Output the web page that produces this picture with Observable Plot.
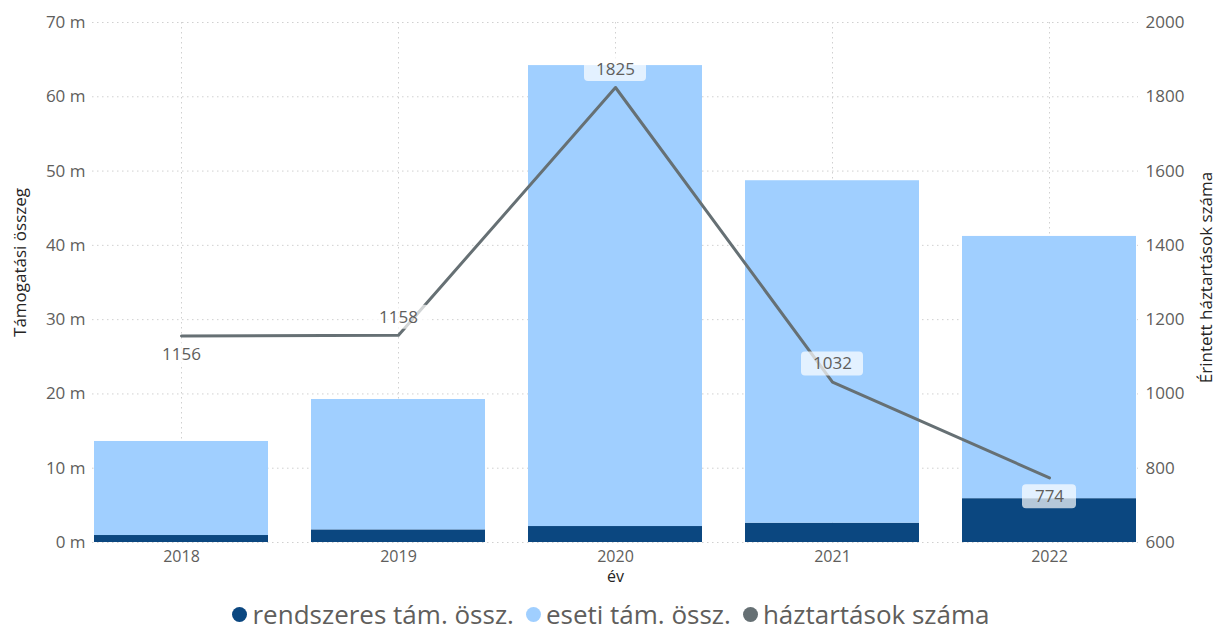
<!DOCTYPE html>
<html>
<head>
<meta charset="utf-8">
<script src="https://cdn.jsdelivr.net/npm/d3@7"></script>
<script src="https://cdn.jsdelivr.net/npm/@observablehq/plot@0.6"></script>
<style>
  html, body { margin: 0; padding: 0; background: #fff; }
  body { width: 1222px; height: 632px; overflow: hidden; font-family: "Open Sans", sans-serif; }
  #legend { display: flex; justify-content: center; align-items: center; height: 40px; margin-top: 2px; font-size: 26px; color: #605e5c; }
  .item { display: flex; align-items: center; margin: 0 6px; }
  .sw { width: 15px; height: 15px; border-radius: 50%; margin-right: 5px; }
</style>
</head>
<body>
<div id="chart"></div>
<div id="legend"></div>
<script>
const years = ["2018", "2019", "2020", "2021", "2022"];
const rendszeres = [0.94, 1.7, 2.15, 2.6, 5.9];
const eseti = [12.66, 17.55, 62.05, 46.1, 35.3];
const haztartasok = [1156, 1158, 1825, 1032, 774];
const leftTicks = [0, 10, 20, 30, 40, 50, 60, 70];
const rightTicks = [600, 800, 1000, 1200, 1400, 1600, 1800, 2000];
const labelPlacement = ["below", "above", "above", "above", "below"];
const seriesNames = ["rendszeres tám. össz.", "eseti tám. össz.", "háztartások száma"];
const seriesColors = ["#0b4780", "#a0cfff", "#667074"];

const W = 1222, H = 592;
const mTop = 22, mBottom = 50, mLeft = 92, mRight = 84;
const yMax = leftTicks[leftTicks.length - 1];
const rMin = rightTicks[0], rMax = rightTicks[rightTicks.length - 1];
const toLeft = v => (v - rMin) / (rMax - rMin) * yMax;
const pxToData = yMax / (H - mTop - mBottom);

const stacked = [];
years.forEach((y, i) => {
  stacked.push({year: y, series: seriesNames[0], value: rendszeres[i]});
  stacked.push({year: y, series: seriesNames[1], value: eseti[i]});
});
const line = years.map((y, i) => {
  const yv = toLeft(haztartasok[i]);
  const off = (labelPlacement[i] === "above" ? 18 : -19) * pxToData;
  return {year: y, value: haztartasok[i], y: yv, ly: yv + off, label: String(haztartasok[i])};
});
const boxH = 12 * pxToData;

const grid = {stroke: "#d0d0d0", strokeOpacity: 1, strokeDasharray: "1.5,3.5", strokeWidth: 1};

const chart = Plot.plot({
  width: W, height: H,
  marginTop: mTop, marginBottom: mBottom, marginLeft: mLeft, marginRight: mRight,
  style: {fontFamily: "Open Sans, sans-serif", background: "#fff", fontSize: "16px"},
  x: {domain: years, paddingInner: 0.2, paddingOuter: 0, label: null},
  y: {domain: [0, yMax], label: null},
  color: {domain: seriesNames, range: seriesColors},
  marks: [
    Plot.gridY(leftTicks, grid),
    Plot.gridX(grid),
    Plot.barY(stacked, {x: "year", y: "value", fill: "series", order: seriesNames}),
    Plot.line(line, {x: "year", y: "y", stroke: seriesColors[2], strokeWidth: 3}),
    Plot.barY(line.filter(d => d.label.length > 3), {x: "year", y1: d => d.ly - boxH, y2: d => d.ly + boxH, fill: "#fff", fillOpacity: 0.7, insetLeft: 56, insetRight: 56, rx: 4}),
    Plot.barY(line.filter(d => d.label.length <= 3), {x: "year", y1: d => d.ly - boxH, y2: d => d.ly + boxH, fill: "#fff", fillOpacity: 0.7, insetLeft: 60, insetRight: 60, rx: 4}),
    Plot.text(line, {x: "year", y: "ly", text: "label", fill: "#605e5c", fontSize: 17}),
    Plot.axisY(leftTicks, {anchor: "left", tickSize: 0, tickPadding: 7, tickFormat: d => d + " m", color: "#605e5c", fontSize: 17, label: null}),
    Plot.axisY(rightTicks.map(toLeft), {anchor: "right", tickSize: 0, tickPadding: 7, tickFormat: d => String(Math.round(rMin + d / yMax * (rMax - rMin))), color: "#605e5c", fontSize: 17, label: null}),
    Plot.axisX({tickSize: 0, tickPadding: 8, color: "#605e5c", fontSize: 16, label: null}),
    Plot.text(["Támogatási összeg"], {frameAnchor: "left", textAnchor: "middle", rotate: -90, dx: -72, dy: -20, fontSize: 17, fill: "#252423"}),
    Plot.text(["Érintett háztartások száma"], {frameAnchor: "right", textAnchor: "middle", rotate: -90, dx: 68, dy: -5, fontSize: 17, fill: "#252423"}),
    Plot.text(["év"], {frameAnchor: "bottom", dy: 39, fontSize: 16, fill: "#252423"})
  ]
});
document.getElementById("chart").appendChild(chart);

const legend = document.getElementById("legend");
seriesNames.forEach((n, i) => {
  const it = document.createElement("div");
  it.className = "item";
  const sw = document.createElement("span");
  sw.className = "sw";
  sw.style.background = seriesColors[i];
  const t = document.createElement("span");
  t.textContent = n;
  it.appendChild(sw); it.appendChild(t);
  legend.appendChild(it);
});
</script>
</body>
</html>
